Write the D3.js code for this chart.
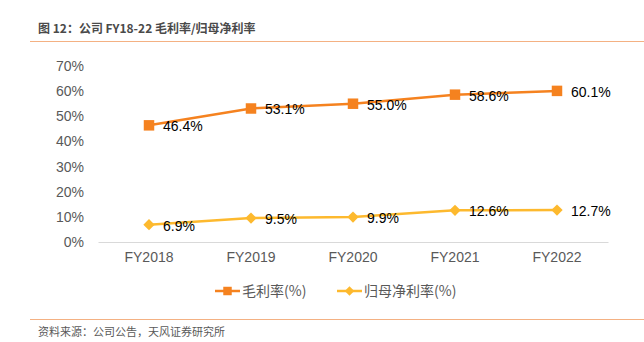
<!DOCTYPE html>
<html>
<head>
<meta charset="utf-8">
<script src="https://cdn.jsdelivr.net/npm/d3@7"></script>
<style>
  body { margin: 0; background: #fff; }
  svg { display: block; font-family: "Liberation Sans", Arial, sans-serif; }
</style>
</head>
<body>
<svg id="chart" width="644" height="342"></svg>
<script>
// Values
const years = ['FY2018', 'FY2019', 'FY2020', 'FY2021', 'FY2022'];
const grossMargin = [46.4, 53.1, 55.0, 58.6, 60.1];
const netMargin = [6.9, 9.5, 9.9, 12.6, 12.7];
const yTicks = [0, 10, 20, 30, 40, 50, 60, 70];
const seriesNames = ['毛利率(%)', '归母净利率(%)'];

const orange = '#F5821F';
const yellow = '#FDB92E';
const cjk = '"Noto Sans CJK SC", sans-serif';

const svg = d3.select('#chart');

// Header
svg.append('text')
  .attr('x', 38).attr('y', 33)
  .attr('font-family', cjk)
  .attr('font-size', 12).attr('font-weight', 'bold')
  .attr('fill', '#4a4a4a')
  .text('图 12：公司 FY18-22 毛利率/归母净利率');
svg.append('line')
  .attr('x1', 30).attr('x2', 644).attr('y1', 41.5).attr('y2', 41.5)
  .attr('stroke', '#F4B183').attr('stroke-width', 1.2);

const x = d3.scaleBand().domain(years).range([98, 608]);
const y = d3.scaleLinear().domain([0, 70]).range([242, 66]);

// Y axis labels
const yAxis = svg.append('g')
  .attr('transform', 'translate(84,0)')
  .call(d3.axisLeft(y).tickValues(yTicks).tickSize(0).tickPadding(0).tickFormat(d => d + '%'));
yAxis.select('.domain').remove();
yAxis.selectAll('text')
  .attr('font-size', 14).attr('fill', '#595959')
  .attr('font-family', '"Liberation Sans", Arial, sans-serif');

// X axis
const xAxis = svg.append('g')
  .attr('transform', 'translate(0,242)')
  .call(d3.axisBottom(x).tickSize(0).tickPadding(10));
xAxis.select('.domain').attr('stroke', '#D9D9D9').attr('stroke-width', 1);
xAxis.selectAll('text')
  .attr('font-size', 14).attr('fill', '#595959')
  .attr('font-family', '"Liberation Sans", Arial, sans-serif');

const cx = d => x(d) + x.bandwidth() / 2;
const line = d3.line().x(d => cx(d[0])).y(d => y(d[1]));

// diamond = square turned 45 degrees
const series = [
  { values: grossMargin, color: orange, size: 110, rot: 0 },
  { values: netMargin, color: yellow, size: 64, rot: 45 }
];

series.forEach(s => {
  const pts = years.map((yr, i) => [yr, s.values[i]]);
  svg.append('path')
    .datum(pts)
    .attr('d', line)
    .attr('fill', 'none')
    .attr('stroke', s.color)
    .attr('stroke-width', 2.5);
  svg.selectAll(null).data(pts).enter().append('path')
    .attr('transform', d => `translate(${cx(d[0])},${y(d[1])}) rotate(${s.rot})`)
    .attr('d', d3.symbol().type(d3.symbolSquare).size(s.size))
    .attr('fill', s.color);
  svg.selectAll(null).data(pts).enter().append('text')
    .attr('x', d => cx(d[0]) + 14)
    .attr('y', d => y(d[1]) + 6)
    .attr('font-size', 14)
    .attr('fill', '#000')
    .text(d => d[1].toFixed(1) + '%');
});

// Legend
const legend = [
  { x: 215, color: orange, size: 72, rot: 0, name: seriesNames[0] },
  { x: 337, color: yellow, size: 45, rot: 45, name: seriesNames[1] }
];
legend.forEach(l => {
  const g = svg.append('g').attr('transform', `translate(${l.x},291)`);
  g.append('line').attr('x1', 0).attr('x2', 25).attr('stroke', l.color).attr('stroke-width', 2.5);
  g.append('path').attr('transform', `translate(12.5,0) rotate(${l.rot})`)
    .attr('d', d3.symbol().type(d3.symbolSquare).size(l.size)).attr('fill', l.color);
  g.append('text').attr('x', 27).attr('y', 5)
    .attr('font-family', cjk).attr('font-size', 14).attr('fill', '#595959')
    .text(l.name);
});

// Footer
svg.append('line')
  .attr('x1', 30).attr('x2', 644).attr('y1', 319.5).attr('y2', 319.5)
  .attr('stroke', '#F4B183').attr('stroke-width', 1.2);
svg.append('text')
  .attr('x', 38).attr('y', 336)
  .attr('font-family', cjk).attr('font-size', 11).attr('fill', '#595959')
  .text('资料来源：公司公告，天风证券研究所');
</script>
</body>
</html>
